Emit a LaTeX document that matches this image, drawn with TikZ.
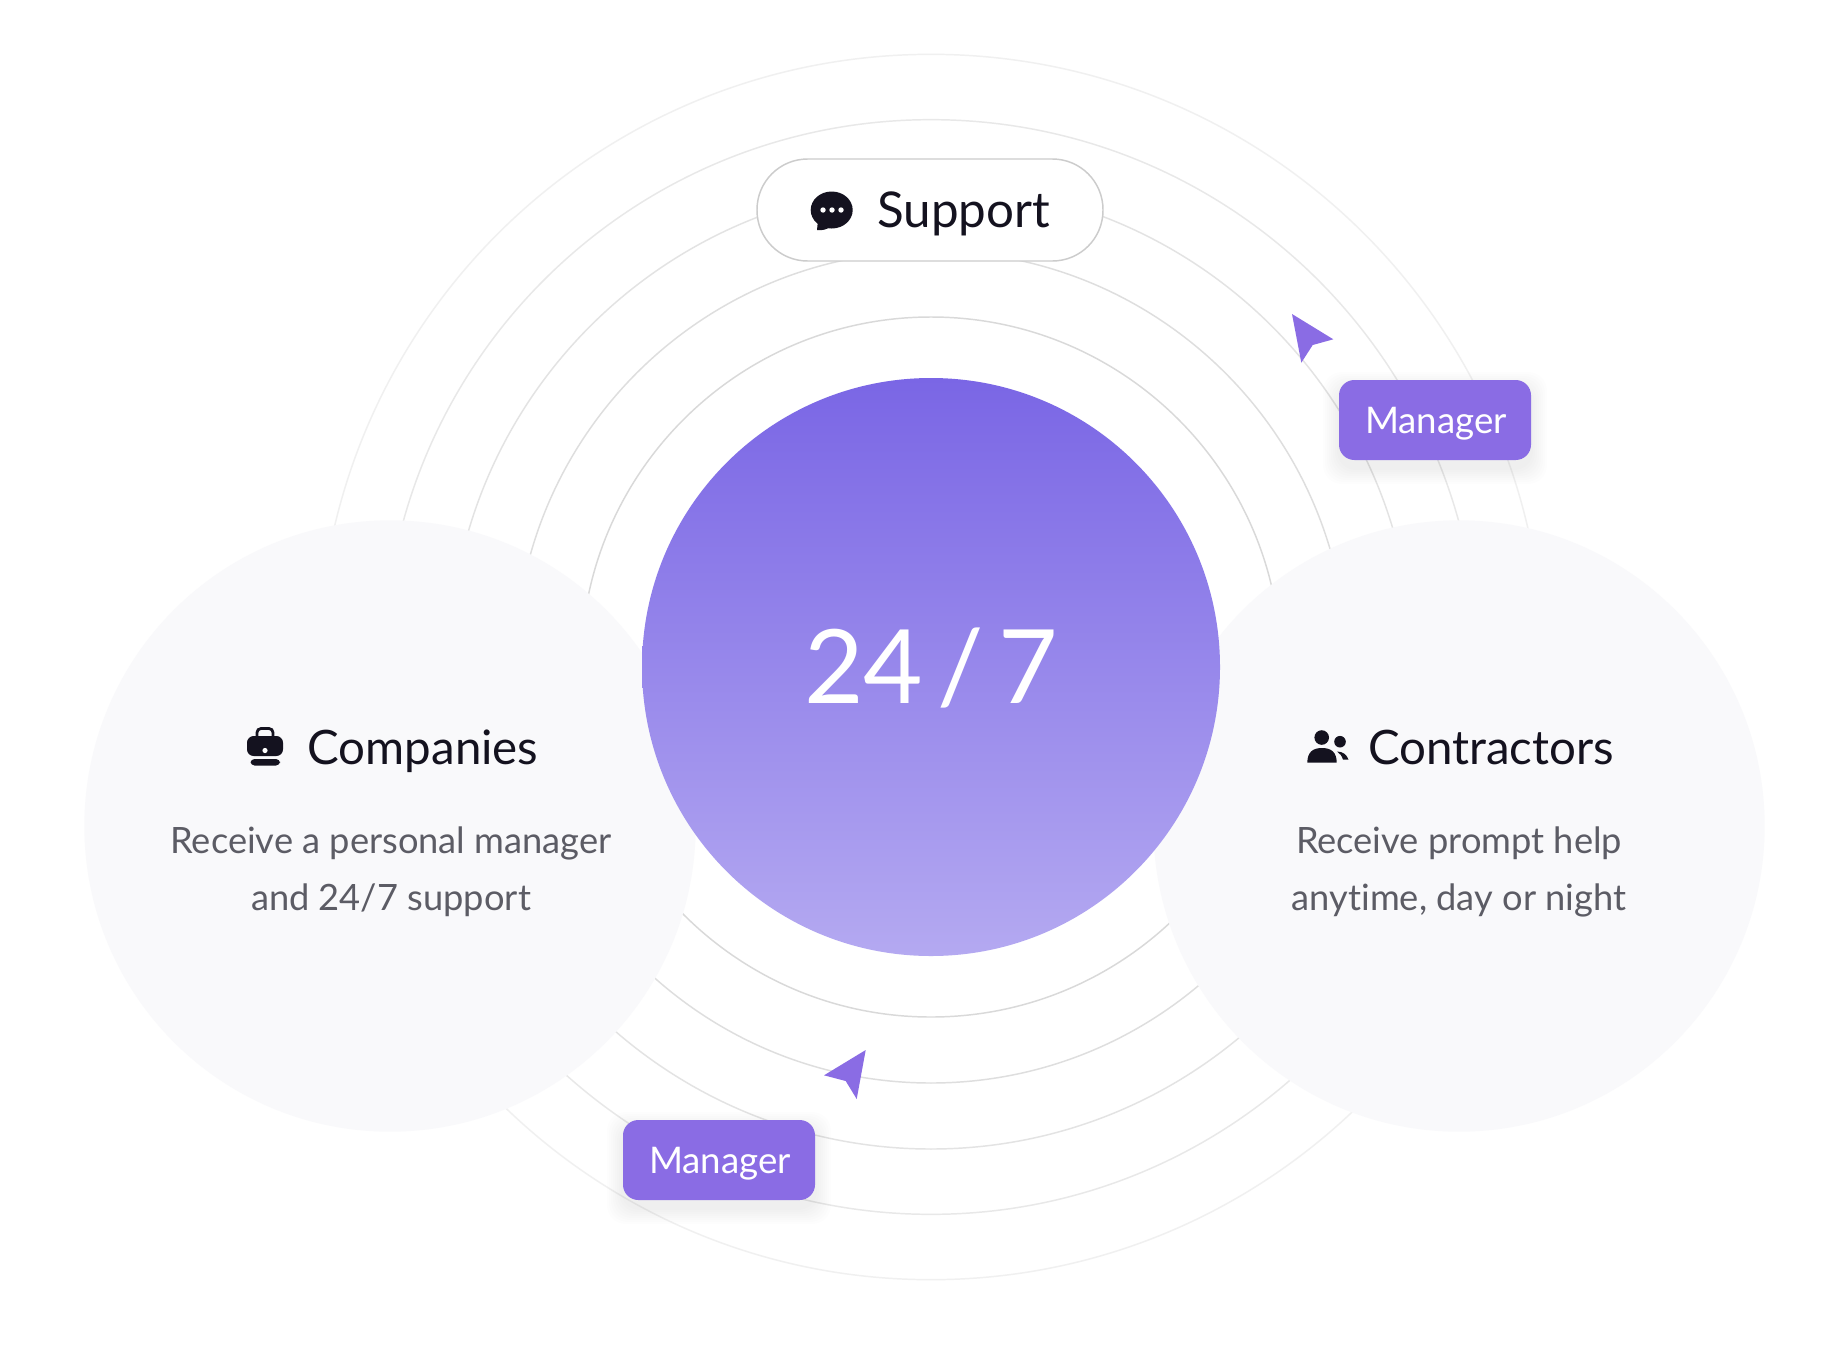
\documentclass[tikz,border=0pt]{standalone}
\usepackage{fontspec}
\setmainfont{Lato}[Ligatures=NoCommon]
\definecolor{ink}{HTML}{14121F}
\definecolor{graytext}{HTML}{5C5C65}
\definecolor{purp}{HTML}{8A6CE4}
\definecolor{sidefill}{HTML}{F9F9FB}
\definecolor{pillline}{HTML}{CCCCCC}
\definecolor{HubTop}{HTML}{7A66E5}
\definecolor{HubBot}{HTML}{B4A9F1}
\tikzset{
  x=0.75pt,y=-0.75pt,
  ringA/.style={draw=black!15,line width=1.1pt},
  ringB/.style={draw=black!13,line width=1.1pt},
  ringC/.style={draw=black!11,line width=1.1pt},
  ringD/.style={draw=black!9,line width=1.1pt},
  ringE/.style={draw=black!6,line width=1.1pt},
  sidecircle/.style={circle,fill=sidefill,minimum size=458.5pt,inner sep=0pt},
  heading/.style={anchor=base,inner sep=0pt,text=ink,font=\fontsize{35.6}{42}\selectfont},
  desc/.style={anchor=base,inner sep=0pt,text=graytext,font=\fontsize{27.2}{32}\selectfont},
  badge/.style={draw=none,fill=purp,rounded corners=11.5pt,minimum width=144pt,minimum height=60pt,inner sep=0pt},
  badgeshadow/.style={fill=black,opacity=0.008,rounded corners=14pt},
  badgetext/.style={anchor=base,inner sep=0pt,text=white,font=\fontsize{27.5}{32}\selectfont},
  cursor/.style={fill=purp,draw=none},
  iconink/.style={fill=ink,draw=none},
}
\begin{document}
\begin{tikzpicture}
\useasboundingbox (0,0) rectangle (1848,1360);
\fill[white] (0,0) rectangle (1848,1360);
% rings
\coordinate (c) at (931,667);
\draw[ringE] (c) circle[radius=459.5pt];
\draw[ringD] (c) circle[radius=410.5pt];
\draw[ringC] (c) circle[radius=361.5pt];
\draw[ringB] (c) circle[radius=312pt];
\draw[ringA] (c) circle[radius=262.5pt];
% side circles
\node[sidecircle] (left) at (390,826) {};
\node[sidecircle] (right) at (1459,826) {};
% centre
\node[circle,minimum size=433.5pt,inner sep=0pt,top color=HubTop,bottom color=HubBot] (hub) at (931,667) {};
\node[anchor=base,inner sep=0pt,text=white,font=\fontsize{77}{90}\selectfont] (hubtext) at (931,703.5) {\spaceskip=0.14em 24 / 7};
% support pill
\node[draw=pillline,line width=1.1pt,fill=white,rounded corners=38pt,minimum width=259.5pt,minimum height=76.5pt,inner sep=0pt] (pill) at (930,210) {};
\node[heading,font=\fontsize{37}{44}\selectfont] (support) at (963.5,227) {Support};
\fill[iconink] (831.7,210) ellipse[x radius=21,y radius=18.5];
\fill[iconink] (818,220) -- (817,230) .. controls (822,231) and (828,229) .. (832,226) -- cycle;
\fill[white] (823,210) circle[radius=2.7] (832,210) circle[radius=2.7] (841,210) circle[radius=2.7];
% companies
\node[heading] (companies) at (423,764.5) {Companies};
\draw[ink,line width=2.1pt,rounded corners=3pt] (257,737) -- (257,728.5) -- (273,728.5) -- (273,737);
\fill[iconink,rounded corners=5pt] (247,736) rectangle (283,756);
\fill[white] (265,750.5) circle[radius=2.6];
\fill[iconink,rounded corners=3pt] (250.5,759) -- (280,759) -- (280,765.5) -- (250.5,765.5) -- cycle;
\node[desc] (d1) at (391,853) {Receive a personal manager};
\node[desc] (d2) at (391,910) {and 24/7 support};
% contractors
\node[heading] (contractors) at (1491,764.5) {Contractors};
\fill[iconink] (1321.7,737.5) circle[radius=7.3];
\fill[iconink] (1307.3,762.7) .. controls (1307.3,752) and (1313,748) .. (1322,748) .. controls (1331,748) and (1336.7,752) .. (1336.7,762.7) -- cycle;
\fill[iconink] (1340,741.7) circle[radius=5.8];
\fill[iconink] (1337,751.5) .. controls (1343,751.5) and (1347,755) .. (1348.5,759.7) -- (1343,759.7) .. controls (1342,756) and (1340,753.5) .. (1337,751.5) -- cycle;
\node[desc] (d3) at (1459,853) {Receive prompt help};
\node[desc] (d4) at (1459,910) {anytime, day or night};
% managers
\foreach \g in {2,4,...,16}{
  \fill[badgeshadow] (1339-\g,388-\g) rectangle (1531+\g,468+\g);
  \fill[badgeshadow] (623-\g,1128-\g) rectangle (815+\g,1208+\g);
}
\node[badge] (m1) at (1435,420) {};
\node[badgetext] (m1t) at (1436,433) {Manager};
\node[badge] (m2) at (719,1160) {};
\node[badgetext] (m2t) at (720,1173) {Manager};
% cursors
\fill[cursor] (1292,314) -- (1333.3,339.3) -- (1312.7,345) -- (1301.3,362.7) -- cycle;
\fill[cursor] (865.7,1050) -- (824,1075.3) -- (845.7,1081) -- (856.7,1099) -- cycle;
\end{tikzpicture}
\end{document}
